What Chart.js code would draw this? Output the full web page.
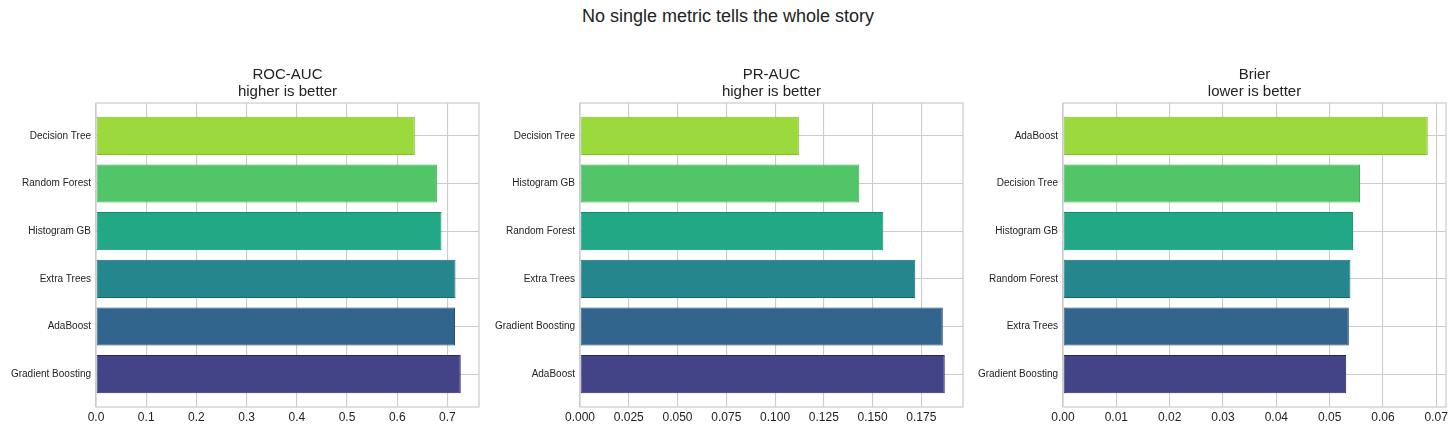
<!DOCTYPE html>
<html><head><meta charset="utf-8">
<script src="https://cdn.jsdelivr.net/npm/chart.js@4"></script>
<style>
html,body{margin:0;padding:0;background:#fff;width:1456px;height:433px;overflow:hidden;font-family:"Liberation Sans",Arial,sans-serif}
#title{position:absolute;left:0;top:6px;width:1456px;text-align:center;font-size:18px;line-height:20px;color:#222}
.p{position:absolute;top:0;height:433px;width:487px}
</style></head><body>
<div id="title">No single metric tells the whole story</div>
<div class="p" style="left:0px"><canvas id="c1" width="487" height="433"></canvas></div>
<div class="p" style="left:484px"><canvas id="c2" width="487" height="433"></canvas></div>
<div class="p" style="left:967px"><canvas id="c3" width="487" height="433"></canvas></div>
<script>
// ---- data (top-to-bottom order as shown) ----
const rocLabels = ['Decision Tree','Random Forest','Histogram GB','Extra Trees','AdaBoost','Gradient Boosting'];
const rocValues = [0.635, 0.679, 0.688, 0.716, 0.715, 0.7265];
const prLabels = ['Decision Tree','Histogram GB','Random Forest','Extra Trees','Gradient Boosting','AdaBoost'];
const prValues = [0.1122, 0.1432, 0.1555, 0.1719, 0.1860, 0.1870];
const brierLabels = ['AdaBoost','Decision Tree','Histogram GB','Random Forest','Extra Trees','Gradient Boosting'];
const brierValues = [0.0684, 0.0557, 0.0544, 0.0539, 0.0536, 0.0531];
const rocTitle = ['ROC-AUC','higher is better'];
const prTitle = ['PR-AUC','higher is better'];
const brierTitle = ['Brier','lower is better'];

const fills = ['#9bd93c','#52c569','#22a884','#24878e','#32658e','#424487'];
const edges = ['#7fc222','#3aad50','#0f8c74','#146a74','#1f4a76','#262868'];

Chart.defaults.font.family = '"Liberation Sans", Arial, sans-serif';
Chart.defaults.color = '#222';

const boxPlugin = {
  id: 'box',
  afterDraw(chart) {
    const a = chart.chartArea, ctx = chart.ctx;
    ctx.save();
    ctx.strokeStyle = '#cccccc';
    ctx.lineWidth = 1.25;
    ctx.strokeRect(a.left, a.top, a.right - a.left, a.bottom - a.top);
    ctx.restore();
  }
};

function make(id, labels, values, title, step, digits) {
  const n = labels.length;
  const pad = 0.4 + 0.05 * (n - 1 + 0.8);
  new Chart(document.getElementById(id), {
    type: 'bar',
    data: {
      datasets: [{
        data: values.map((v, i) => ({ x: v, y: i })),
        backgroundColor: fills,
        borderColor: edges,
        borderWidth: 1,
        borderSkipped: false,
        categoryPercentage: 1,
        barPercentage: 0.8
      }]
    },
    options: {
      indexAxis: 'y',
      responsive: false,
      animation: false,
      layout: { padding: { left: 0, right: 8, top: 0, bottom: 0 } },
      plugins: {
        legend: { display: false },
        tooltip: { enabled: false },
        title: {
          display: true,
          fullSize: false,
          text: title,
          color: '#222',
          font: { size: 15, weight: 'normal', lineHeight: 1.15 },
          padding: { top: 66, bottom: 2.5 }
        }
      },
      scales: {
        x: {
          type: 'linear',
          min: 0,
          max: Math.max(...values) * 1.05,
          afterFit(s) { s.height = 26; },
          grid: { color: '#cccccc', lineWidth: 1.1, drawTicks: false },
          border: { display: false },
          ticks: {
            stepSize: step,
            includeBounds: false,
            padding: 3,
            font: { size: 12 },
            color: '#222',
            callback: v => Number(v).toFixed(digits)
          }
        },
        y: {
          type: 'linear',
          reverse: true,
          offset: false,
          min: -pad,
          max: n - 1 + pad,
          afterFit(s) { s.width = 96; },
          afterBuildTicks(s) { s.ticks = labels.map((_, i) => ({ value: i })); },
          grid: { color: '#cccccc', lineWidth: 1.1, drawTicks: false, offset: false },
          border: { display: false },
          ticks: {
            padding: 5,
            font: { size: 10 },
            color: '#222',
            callback: v => labels[v]
          }
        }
      }
    },
    plugins: [boxPlugin]
  });
}

make('c1', rocLabels, rocValues, rocTitle, 0.1, 1);
make('c2', prLabels, prValues, prTitle, 0.025, 3);
make('c3', brierLabels, brierValues, brierTitle, 0.01, 2);
</script>
</body></html>
